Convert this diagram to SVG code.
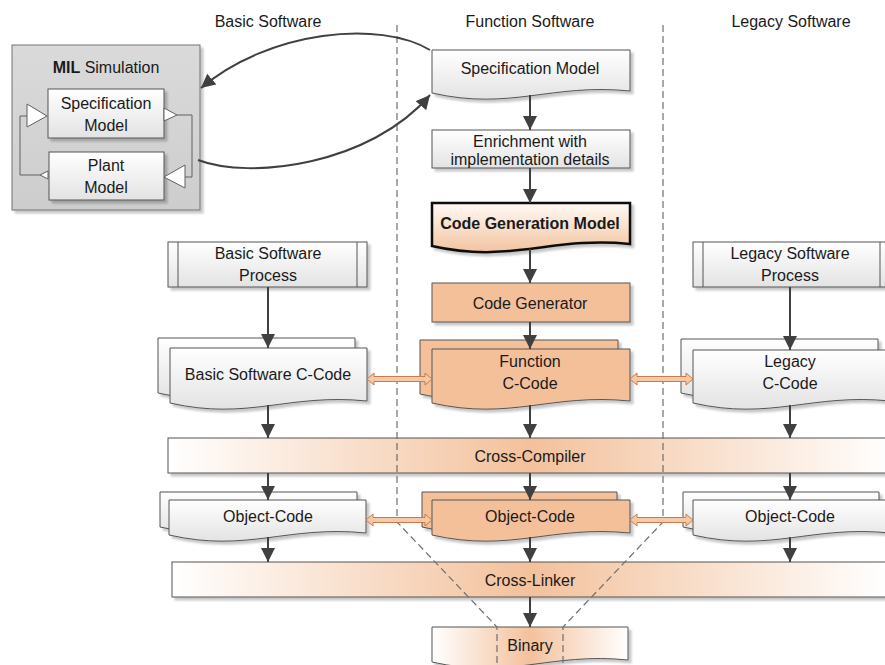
<svg xmlns="http://www.w3.org/2000/svg" width="885" height="665" viewBox="0 0 885 665">
<defs>
<style>
text{font-family:"Liberation Sans",Arial,sans-serif;font-size:16px;fill:#1a1a1a;text-anchor:middle}
.hdr{font-size:16px}
.sh{stroke:#555;stroke-width:1}
.gray{fill:url(#gGray)}
.org{fill:#f4c09a}
.con{stroke:#404040;stroke-width:2;fill:none}
.dash{stroke:#6e6e6e;stroke-width:1.2;stroke-dasharray:7,4;fill:none}
.dbl{fill:#f6c8a4;stroke:#c97b4c;stroke-width:1}
.mil{stroke:#606060;stroke-width:1;fill:none}
.tri{fill:#fff;stroke:#606060;stroke-width:1}
</style>
<linearGradient id="gGray" x1="0" y1="0" x2="0" y2="1"><stop offset="0" stop-color="#ffffff"/><stop offset="1" stop-color="#e3e3e3"/></linearGradient>
<linearGradient id="gCGM" x1="0" y1="0" x2="0" y2="1"><stop offset="0" stop-color="#fffaf6"/><stop offset="1" stop-color="#f3c39f"/></linearGradient>
<linearGradient id="gMil" x1="0" y1="0" x2="0" y2="1"><stop offset="0" stop-color="#dadada"/><stop offset="1" stop-color="#cdcdcd"/></linearGradient>
<linearGradient id="gCC" gradientUnits="userSpaceOnUse" x1="168" y1="0" x2="892" y2="0"><stop offset="0" stop-color="#ffffff"/><stop offset="0.5" stop-color="#f3c19c"/><stop offset="1" stop-color="#ffffff"/></linearGradient>
<linearGradient id="gCL" gradientUnits="userSpaceOnUse" x1="172" y1="0" x2="888" y2="0"><stop offset="0" stop-color="#ffffff"/><stop offset="0.5" stop-color="#f3c19c"/><stop offset="1" stop-color="#ffffff"/></linearGradient>
<linearGradient id="gBin" gradientUnits="userSpaceOnUse" x1="432" y1="0" x2="628" y2="0"><stop offset="0" stop-color="#ffffff"/><stop offset="0.5" stop-color="#f3c19c"/><stop offset="1" stop-color="#ffffff"/></linearGradient>
<filter id="shadow" x="-5%" y="-5%" width="115%" height="130%"><feDropShadow dx="3" dy="3" stdDeviation="1" flood-color="#000" flood-opacity="0.22"/></filter>
<marker id="ah" markerUnits="userSpaceOnUse" markerWidth="15" markerHeight="15" refX="14" refY="7" orient="auto"><path d="M0,0 L14,7 L0,14 Z" fill="#404040"/></marker>
</defs>

<g id="headers">
<text class="hdr" x="268" y="27">Basic Software</text>
<text class="hdr" x="530" y="27">Function Software</text>
<text class="hdr" x="791" y="27">Legacy Software</text>
</g>

<g id="mil" filter="url(#shadow)">
<rect x="12" y="45" width="188" height="165" fill="url(#gMil)" stroke="#707070"/>
</g>
<g id="mil-content">
<text x="106" y="73"><tspan font-weight="bold">MIL</tspan> Simulation</text>
<path class="mil" d="M177,115 H192 V177 H185"/>
<path class="mil" d="M40,175 H20 V116 H27"/>
<g id="mil-spec" filter="url(#shadow)"><rect x="48" y="89" width="116" height="49" class="gray sh"/></g>
<text x="106" y="109">Specification</text>
<text x="106" y="131">Model</text>
<g id="mil-plant" filter="url(#shadow)"><rect x="49" y="152" width="115" height="48" class="gray sh"/></g>
<text x="106" y="171">Plant</text>
<text x="106" y="193">Model</text>
<polygon class="tri" points="27,104 47,116 27,127"/>
<polygon class="tri" points="164,108 177,115 164,121"/>
<polygon class="tri" points="185,165 164,177 185,188"/>
<polygon class="tri" points="48,171 40,175 48,179"/>
</g>

<g id="spec-model">
<path filter="url(#shadow)" class="gray sh" d="M432,50 H630 V91 C550.8,83 511.2,111 432,93 Z"/>
<text x="530" y="74">Specification Model</text>
</g>
<g id="enrichment">
<rect filter="url(#shadow)" x="432" y="130" width="198" height="38" class="gray sh"/>
<text x="530" y="147">Enrichment with</text>
<text x="530" y="165">implementation details</text>
</g>
<g id="code-gen-model">
<path filter="url(#shadow)" fill="url(#gCGM)" stroke="#111" stroke-width="2.5" d="M432,203 H630 V244 C550.8,236 511.2,264 432,246 Z"/>
<text x="530" y="229" font-weight="bold">Code Generation Model</text>
</g>
<g id="code-generator">
<rect filter="url(#shadow)" x="432" y="283" width="198" height="39" class="org sh"/>
<text x="530" y="309">Code Generator</text>
</g>

<g id="basic-process">
<rect filter="url(#shadow)" x="168" y="242" width="199" height="45" class="gray sh"/>
<line x1="178" y1="242" x2="178" y2="287" class="sh"/>
<line x1="357" y1="242" x2="357" y2="287" class="sh"/>
<text x="268" y="259">Basic Software</text>
<text x="268" y="281">Process</text>
</g>
<g id="legacy-process">
<rect filter="url(#shadow)" x="693" y="242" width="197" height="45" class="gray sh"/>
<line x1="703" y1="242" x2="703" y2="287" class="sh"/>
<line x1="880" y1="242" x2="880" y2="287" class="sh"/>
<text x="790" y="259">Legacy Software</text>
<text x="790" y="281">Process</text>
</g>

<g id="basic-ccode" filter="url(#shadow)">
<path class="gray sh" d="M158,338 H355 V391 C276.2,383 236.8,411 158,393 Z"/>
<path class="gray sh" d="M170,348 H367 V401 C288.2,393 248.8,421 170,403 Z"/>
</g>
<text x="268" y="380">Basic Software C-Code</text>
<g id="function-ccode" filter="url(#shadow)">
<path class="org sh" d="M420,340 H618 V392 C538.8,384 499.2,412 420,394 Z"/>
<path class="org sh" d="M432,349 H630 V401 C550.8,393 511.2,421 432,403 Z"/>
</g>
<text x="530" y="367">Function</text>
<text x="530" y="389">C-Code</text>
<g id="legacy-ccode" filter="url(#shadow)">
<path class="gray sh" d="M681,339 H878 V391 C799.2,383 759.8,411 681,393 Z"/>
<path class="gray sh" d="M693,350 H890 V401 C811.2,393 771.8,421 693,403 Z"/>
</g>
<text x="790" y="367">Legacy</text>
<text x="790" y="389">C-Code</text>

<g id="cross-compiler">
<rect filter="url(#shadow)" x="168" y="438" width="725" height="35" fill="url(#gCC)" class="sh"/>
<text x="530" y="462">Cross-Compiler</text>
</g>

<g id="basic-object" filter="url(#shadow)">
<path class="gray sh" d="M160,492 H357 V525 C278.2,517 238.8,545 160,527 Z"/>
<path class="gray sh" d="M169,500 H366 V533 C287.2,525 247.8,553 169,535 Z"/>
</g>
<text x="268" y="522">Object-Code</text>
<g id="function-object" filter="url(#shadow)">
<path class="org sh" d="M422,492 H617 V525 C539,517 500,545 422,527 Z"/>
<path class="org sh" d="M432,500 H630 V533 C550.8,525 511.2,553 432,535 Z"/>
</g>
<text x="530" y="522">Object-Code</text>
<g id="legacy-object" filter="url(#shadow)">
<path class="gray sh" d="M683,492 H879 V525 C800.6,517 761.4,545 683,527 Z"/>
<path class="gray sh" d="M693,500 H890 V533 C811.2,525 771.8,553 693,535 Z"/>
</g>
<text x="790" y="522">Object-Code</text>

<g id="cross-linker">
<rect filter="url(#shadow)" x="172" y="562" width="721" height="35" fill="url(#gCL)" class="sh"/>
<text x="530" y="586">Cross-Linker</text>
</g>

<g id="binary">
<path filter="url(#shadow)" fill="url(#gBin)" class="sh" d="M432,627 H628 V660 C549.6,652 510.4,680 432,662 Z"/>
<text x="530" y="651">Binary</text>
</g>

<g id="boundaries">
<path class="dash" d="M397,25 V522 L497,627 V665"/>
<path class="dash" d="M663,25 V522 L563,627 V665"/>
</g>

<g id="connectors">
<path class="con" d="M430,50 C380,20 270,30 201,88" marker-end="url(#ah)"/>
<path class="con" d="M198,160 C250,180 370,165 430,95" marker-end="url(#ah)"/>
<line class="con" x1="530" y1="95" x2="530" y2="130" marker-end="url(#ah)"/>
<line class="con" x1="530" y1="168" x2="530" y2="203" marker-end="url(#ah)"/>
<line class="con" x1="530" y1="249" x2="530" y2="283" marker-end="url(#ah)"/>
<line class="con" x1="530" y1="322" x2="530" y2="349" marker-end="url(#ah)"/>
<line class="con" x1="530" y1="405" x2="530" y2="438" marker-end="url(#ah)"/>
<line class="con" x1="530" y1="473" x2="530" y2="500" marker-end="url(#ah)"/>
<line class="con" x1="530" y1="537" x2="530" y2="562" marker-end="url(#ah)"/>
<line class="con" x1="530" y1="597" x2="530" y2="627" marker-end="url(#ah)"/>
<line class="con" x1="268" y1="287" x2="268" y2="348" marker-end="url(#ah)"/>
<line class="con" x1="268" y1="405" x2="268" y2="438" marker-end="url(#ah)"/>
<line class="con" x1="268" y1="473" x2="268" y2="500" marker-end="url(#ah)"/>
<line class="con" x1="268" y1="537" x2="268" y2="562" marker-end="url(#ah)"/>
<line class="con" x1="790" y1="287" x2="790" y2="350" marker-end="url(#ah)"/>
<line class="con" x1="790" y1="405" x2="790" y2="438" marker-end="url(#ah)"/>
<line class="con" x1="790" y1="473" x2="790" y2="500" marker-end="url(#ah)"/>
<line class="con" x1="790" y1="537" x2="790" y2="562" marker-end="url(#ah)"/>
<polygon class="dbl" points="367,379 374,373 374,376.5 425,376.5 425,373 432,379 425,385 425,381.5 374,381.5 374,385"/>
<polygon class="dbl" points="630,379 637,373 637,376.5 686,376.5 686,373 693,379 686,385 686,381.5 637,381.5 637,385"/>
<polygon class="dbl" points="366,520 373,514 373,517.5 425,517.5 425,514 432,520 425,526 425,522.5 373,522.5 373,526"/>
<polygon class="dbl" points="630,520 637,514 637,517.5 686,517.5 686,514 693,520 686,526 686,522.5 637,522.5 637,526"/>
</g>
</svg>
